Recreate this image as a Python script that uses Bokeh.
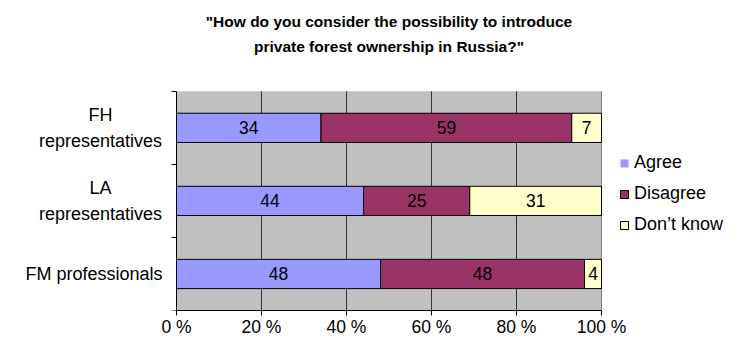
from bokeh.plotting import figure
from bokeh.models import (ColumnDataSource, FixedTicker, Legend, LegendItem,
                          Range1d)
from bokeh.embed import file_html
from bokeh.resources import INLINE
from bokeh.core.properties import value

# ---- data ----
title_lines = ['"How do you consider the possibility to introduce',
               'private forest ownership in Russia?"']
categories = ["FH\nrepresentatives", "LA\nrepresentatives", "FM professionals"]
series_names = ["Agree", "Disagree", "Don\u2019t know"]
agree = [34, 44, 48]
disagree = [59, 25, 48]
dont_know = [7, 31, 4]
x_ticks = [0, 20, 40, 60, 80, 100]
x_tick_labels = ["0 %", "20 %", "40 %", "60 %", "80 %", "100 %"]

# ---- styles / layout (pixels) ----
colors = ["#9999FF", "#993366", "#FFFFCC"]
legend_outline = [None, "black", "black"]
FONT = "Liberation Sans"
BAR_H = 0.4
W, H = 724, 339
FRAME_L, FRAME_R, FRAME_T = 20, W, 0
BOTTOM_AXIS = 25
PLOT_L, PLOT_R, PLOT_T = 176, 601, 92
PLOT_B = H - BOTTOM_AXIS

n = len(categories)
y_pos = [n - 1 - i + 0.5 for i in range(n)]
x0, x1 = x_ticks[0], x_ticks[-1]
sx = (PLOT_R - PLOT_L) / (x1 - x0)
sy = (PLOT_B - PLOT_T) / n


def dx(px):
    return x0 + (px - PLOT_L) / sx


def dy(py):
    return (PLOT_B - py) / sy


p = figure(width=W, height=H,
           x_range=Range1d(dx(FRAME_L), dx(FRAME_R)),
           y_range=Range1d(0, dy(FRAME_T)),
           output_backend="svg", toolbar_location=None,
           min_border_left=FRAME_L, min_border_right=W - FRAME_R,
           min_border_top=FRAME_T, min_border_bottom=BOTTOM_AXIS,
           background_fill_color="white", border_fill_color="white",
           outline_line_color=None)
p.xgrid.visible = False
p.ygrid.visible = False

# plot area background
p.quad(left=[x0], right=[x1], bottom=[0], top=[n], fill_color="#C0C0C0",
       line_color=None, level="image")
# vertical grid lines
inner = x_ticks[1:-1]
p.segment(x0=inner, x1=inner, y0=[0] * len(inner), y1=[n] * len(inner),
          line_color="#333333", line_width=1, level="underlay")
p.segment(x0=[x1], x1=[x1], y0=[0], y1=[n], line_color="#808080",
          line_width=1, level="underlay")

# x axis
xa = p.xaxis[0]
xa.ticker = FixedTicker(ticks=x_ticks, minor_ticks=[])
xa.bounds = (x0, x1)
xa.major_label_overrides = {t: l for t, l in zip(x_ticks, x_tick_labels)}
xa.major_tick_out = 5
xa.major_tick_in = 0
xa.major_tick_line_color = "black"
xa.axis_line_color = "black"
xa.major_label_standoff = 1
xa.major_label_text_font = FONT
xa.major_label_text_font_size = "17.5px"
xa.major_label_text_color = "black"

# y axis at x = 0, ticks at category boundaries
ya = p.yaxis[0]
ya.fixed_location = x0
ya.bounds = (0, n)
ya.ticker = FixedTicker(ticks=[], minor_ticks=list(range(n + 1)))
ya.minor_tick_out = 5
ya.minor_tick_in = 0
ya.minor_tick_line_color = "black"
ya.axis_line_color = "black"

# category labels: wrapped ones centred, single-line ones right-aligned
multi = [i for i, c in enumerate(categories) if "\n" in c]
single = [i for i, c in enumerate(categories) if "\n" not in c]
p.text(x=[dx(100)] * len(multi), y=[y_pos[i] for i in multi],
       text=[categories[i] for i in multi], text_align="center",
       text_baseline="middle", text_font=value(FONT), text_font_size="18px",
       text_line_height=1.28, text_color="black")
p.text(x=[dx(162)] * len(single), y=[y_pos[i] for i in single],
       text=[categories[i] for i in single], text_align="right",
       text_baseline="middle", text_font=value(FONT), text_font_size="18px",
       text_color="black")

# stacked bars
series = [agree, disagree, dont_know]
starts = [0] * n
legend_items = []
nan = float("nan")
for name, vals, col, lc in zip(series_names, series, colors, legend_outline):
    left = list(starts)
    right = [s + v for s, v in zip(starts, vals)]
    src = ColumnDataSource(dict(y=y_pos, left=left, right=right,
                                mid=[(a + b) / 2 for a, b in zip(left, right)],
                                lab=[str(v) for v in vals]))
    p.hbar(y="y", left="left", right="right", height=BAR_H, source=src,
           fill_color=col, line_color="black", line_width=1)
    p.text(x="mid", y="y", text="lab", source=src, text_align="center",
           text_baseline="middle", text_font=value(FONT),
           text_font_size="17.5px", text_color="black")
    # legend swatch (not drawn in the plot)
    swatch = p.hbar(y=[nan], left=[nan], right=[nan], height=BAR_H,
                    fill_color=col, line_color=lc, line_width=1)
    legend_items.append(LegendItem(label=name, renderers=[swatch]))
    starts = right

legend = Legend(items=legend_items, location=(619 - FRAME_L, PLOT_B - 239),
                orientation="vertical", glyph_width=10, glyph_height=10,
                label_standoff=5, spacing=10, padding=0, margin=0,
                label_height=20, border_line_color=None,
                background_fill_alpha=0,
                label_text_font=FONT, label_text_font_size="18px",
                label_text_color="black")
p.add_layout(legend)

# title
p.text(x=[(x0 + x1) / 2] * len(title_lines), y=[dy(21), dy(47)],
       text=title_lines, text_align="center", text_baseline="middle",
       text_font=value(FONT), text_font_size="15.5px",
       text_font_style="bold", text_color="black")

open("out.html", "w").write(file_html(p, INLINE))
